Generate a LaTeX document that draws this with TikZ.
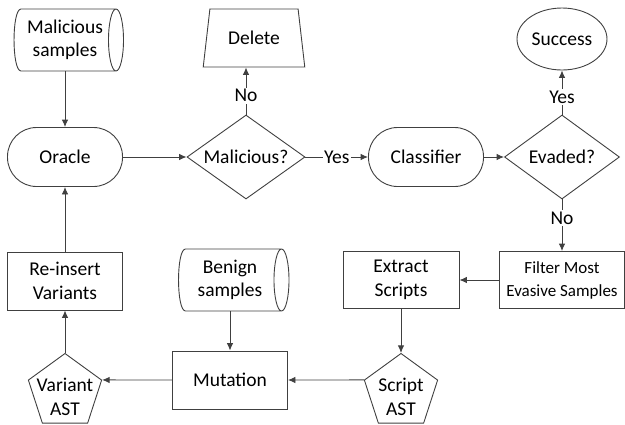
\documentclass[tikz,border=0pt]{standalone}
\usepackage{fontspec}
\setmainfont{Carlito}
\usetikzlibrary{arrows}
\usetikzlibrary{arrows.meta}
\usetikzlibrary{positioning}
\usetikzlibrary{shapes.geometric}
\definecolor{linegray}{HTML}{404040}

% outline of a stored-data node (bulged left side, open cylinder end on the right)
\newcommand{\storeoutline}[1]{%
  \draw [linegray] ([xshift=7pt]#1.north west) -- (#1.north east)
    ([xshift=7pt]#1.south west) -- (#1.south east)
    ([xshift=7pt]#1.north west) .. controls ([xshift=-2.3pt]#1.north west) and ([xshift=-2.3pt]#1.south west) .. ([xshift=7pt]#1.south west)
    (#1.east) ellipse [x radius=7.5pt, y radius=31pt];}

\begin{document}
\begin{tikzpicture}[>={Latex[length=7.5pt,width=6.5pt]}, line width=0.9pt,
    every node/.style={font=\fontsize{19.5}{23.5}\selectfont, align=center, text=black},
    procbox/.style={draw=linegray, rectangle, minimum width=115pt, minimum height=58pt, inner sep=0pt},
    terminal/.style={draw=linegray, rectangle, rounded corners=29pt, minimum width=115pt, minimum height=59pt, inner sep=0pt},
    decision/.style={draw=linegray, diamond, aspect=1.4, minimum height=84pt, inner sep=0pt},
    storage/.style={rectangle, minimum width=102pt, minimum height=62pt, inner sep=0pt, outer sep=0pt},
    astnode/.style={draw=linegray, regular polygon, regular polygon sides=5, minimum size=77pt, inner sep=0pt},
    answer/.style={fill=white, inner sep=1.5pt},
    flow/.style={->, draw=linegray}]

    \useasboundingbox (0,0) rectangle (625pt,-424pt);

            % Nodes, top row
            \node [terminal] (Oracle) at (65pt,-157pt) {Oracle};
            \node [storage, above of=Oracle, node distance=117pt] (MalSamples) {Malicious\\samples};
            \node [decision, right of=Oracle, node distance=181pt, minimum width=118pt] (MalCheck) {Malicious?};
            \node [above of=MalCheck, node distance=119pt, xshift=8pt, draw=linegray, trapezium, trapezium left angle=74, trapezium right angle=74, trapezium stretches=true, minimum width=102pt, minimum height=58pt, inner sep=0pt] (Delete) {Delete};
            \node [terminal, right of=MalCheck, node distance=180pt] (Classifier) {Classifier};
            \node [decision, right of=Classifier, node distance=136pt, minimum width=115pt] (Evaded) {Evaded?};
            \node [above of=Evaded, node distance=118pt, draw=linegray, ellipse, minimum width=90pt, minimum height=62pt, inner sep=0pt] (Success) {Success};

            % Nodes, lower rows
            \node [procbox, below of=Evaded, node distance=123pt, minimum width=125pt, minimum height=57pt, font=\fontsize{17}{23}\selectfont] (Filter) {Filter Most\\Evasive Samples};
            \node [procbox, left of=Filter, node distance=161pt, minimum width=116pt, minimum height=57pt] (Extract) {Extract\\Scripts};
            \node [astnode, below of=Extract, node distance=112pt, label={[yshift=-5pt]center:Script\\AST}] (ScriptAST) {};
            \node [procbox] (Mutation) at (230pt,-380pt) {Mutation};
            \node [storage, above of=Mutation, node distance=100pt, minimum width=103pt] (Benign) {Benign\\samples};
            \node [astnode, left of=ScriptAST, node distance=336pt, label={[yshift=-5pt]center:Variant\\AST}] (VariantAST) {};
            \node [procbox, above of=VariantAST, node distance=111pt] (Reinsert) {Re-insert\\Variants};

            % Stored data outlines
            \storeoutline{MalSamples}
            \storeoutline{Benign}

            % Connections
            \draw [flow] (MalSamples) -- (Oracle);
            \draw [flow] (Oracle) -- (MalCheck);
            \draw [flow] (MalCheck.north) -- node[answer, pos=0.4] {No} (MalCheck.north |- Delete.south);
            \draw [flow] (MalCheck) -- node[answer] {Yes} (Classifier);
            \draw [flow] (Classifier) -- (Evaded);
            \draw [flow] (Evaded) -- node[answer, pos=0.4] {Yes} (Success);
            \draw [flow] (Evaded) -- node[answer, pos=0.36] {No} (Filter);
            \draw [flow] (Filter) -- (Extract);
            \draw [flow] (Extract) -- (ScriptAST.corner 1);
            \draw [flow] (ScriptAST.corner 2) -- (Mutation.east);
            \draw [flow] (Benign) -- (Mutation);
            \draw [flow] (Mutation.west) -- (VariantAST.corner 5);
            \draw [flow] (VariantAST.corner 1) -- (Reinsert);
            \draw [flow] (Reinsert) -- (Oracle);

        \end{tikzpicture}
\end{document}
